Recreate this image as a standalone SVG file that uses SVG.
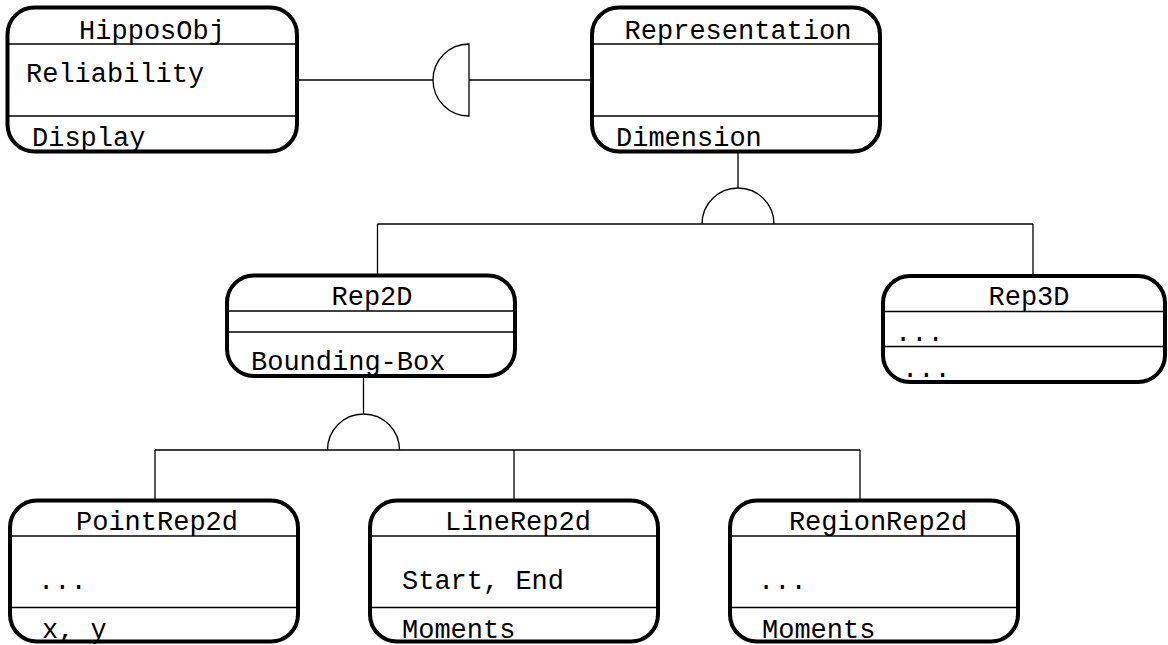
<svg xmlns="http://www.w3.org/2000/svg" width="1168" height="645" viewBox="0 0 1168 645">
<style>
.box{fill:none;stroke:#000;stroke-width:4}
.div{stroke:#000;stroke-width:1.3}
.t{font-family:"Liberation Mono","DejaVu Sans Mono",monospace;font-size:27px;fill:#000}
.c{text-anchor:middle}
.con{fill:none;stroke:#000;stroke-width:1.3}
</style>
<rect width="1168" height="645" fill="#fff"/>
<g id="connectors">
<path class="con" d="M297,80H433M469,80H592"/>
<path class="con" d="M469,44A36,36 0 0 0 469,116Z"/>
<path class="con" d="M738,152V188M702,224A36,36 0 0 1 774,224M377.5,224H1033M377.5,224V275.5M1033,224V276"/>
<path class="con" d="M363.5,376V414M327.5,450A36,36 0 0 1 399.5,450M155,450H860M155,450V500.5M514,450V500.5M860,450V500.5"/>
</g>
<g id="HipposObj">
<text class="t c" x="152" y="39">HipposObj</text>
<text class="t" x="26" y="82">Reliability</text>
<text class="t" x="32" y="146">Display</text>
<line class="div" x1="8" y1="44" x2="297" y2="44"/>
<line class="div" x1="8" y1="116" x2="297" y2="116"/>
<rect class="box" x="7.5" y="7.5" width="289.5" height="144" rx="27"/>
</g>
<g id="Representation">
<text class="t c" x="738" y="39">Representation</text>
<text class="t" x="616" y="146">Dimension</text>
<line class="div" x1="592" y1="44" x2="880" y2="44"/>
<line class="div" x1="592" y1="116" x2="880" y2="116"/>
<rect class="box" x="592" y="7.5" width="288" height="144" rx="27"/>
</g>
<g id="Rep2D">
<text class="t c" x="372" y="305">Rep2D</text>
<text class="t" x="251" y="370">Bounding-Box</text>
<line class="div" x1="227" y1="311" x2="515" y2="311"/>
<line class="div" x1="227" y1="332" x2="515" y2="332"/>
<rect class="box" x="227" y="275.5" width="288" height="100.5" rx="27"/>
</g>
<g id="Rep3D">
<text class="t c" x="1029" y="305">Rep3D</text>
<text class="t" x="895" y="341">...</text>
<text class="t" x="902" y="377">...</text>
<line class="div" x1="883" y1="311.5" x2="1165" y2="311.5"/>
<line class="div" x1="883" y1="346.5" x2="1165" y2="346.5"/>
<rect class="box" x="883" y="276" width="282" height="106" rx="27"/>
</g>
<g id="PointRep2d">
<text class="t c" x="157" y="530">PointRep2d</text>
<text class="t" x="38" y="589">...</text>
<text class="t" x="42" y="638">x, y</text>
<line class="div" x1="10" y1="536" x2="298" y2="536"/>
<line class="div" x1="10" y1="607.5" x2="298" y2="607.5"/>
<rect class="box" x="10" y="500.5" width="288" height="141" rx="27"/>
</g>
<g id="LineRep2d">
<text class="t c" x="518" y="530">LineRep2d</text>
<text class="t" x="402" y="589">Start, End</text>
<text class="t" x="402" y="638">Moments</text>
<line class="div" x1="370" y1="536" x2="658" y2="536"/>
<line class="div" x1="370" y1="607.5" x2="658" y2="607.5"/>
<rect class="box" x="370" y="500.5" width="288" height="141" rx="27"/>
</g>
<g id="RegionRep2d">
<text class="t c" x="878" y="530">RegionRep2d</text>
<text class="t" x="758" y="589">...</text>
<text class="t" x="762" y="638">Moments</text>
<line class="div" x1="730" y1="536" x2="1018" y2="536"/>
<line class="div" x1="730" y1="607.5" x2="1018" y2="607.5"/>
<rect class="box" x="730" y="500.5" width="288" height="141" rx="27"/>
</g>
</svg>
